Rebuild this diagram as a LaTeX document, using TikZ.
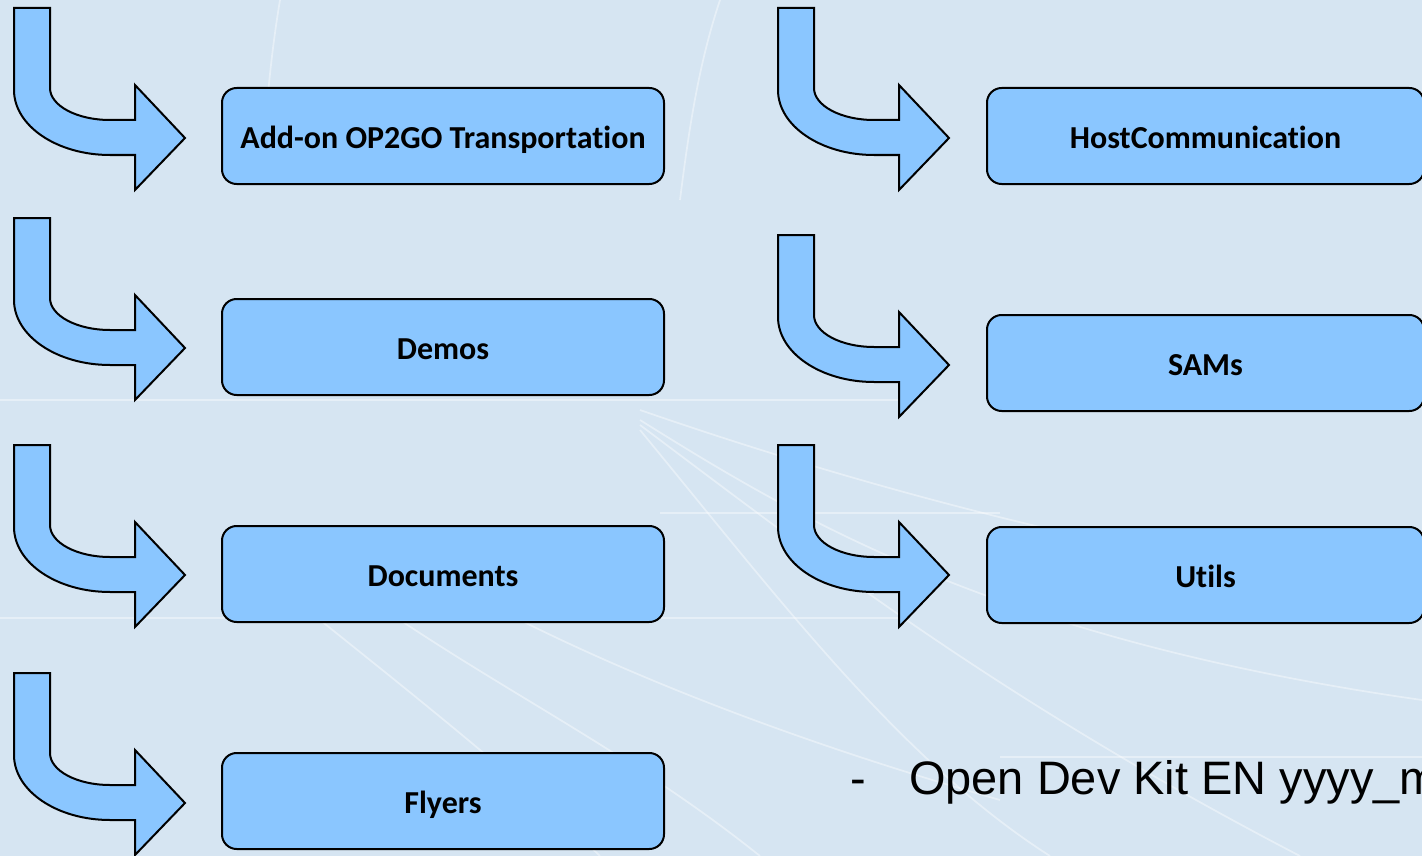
\documentclass[tikz,border=0pt]{standalone}
\usepackage{fontspec}
\setmainfont[Ligatures=NoCommon]{Carlito}
\newfontfamily\arialfont{Liberation Sans}
\definecolor{bgblue}{RGB}{214,229,242}
\definecolor{boxblue}{RGB}{138,198,255}

\tikzset{
  folder/.style={draw, line width=1.5pt, fill=boxblue, rounded corners=11pt,
    minimum height=72pt, inner sep=0pt, text height=18.5pt, text depth=0pt,
    font=\bfseries\fontsize{24}{28}\selectfont},
  kittext/.style={anchor=base west, inner sep=0pt,
    font=\arialfont\fontsize{35.2}{40}\selectfont},
  webline/.style={white, opacity=.4, line width=1.3pt},
  bentarrow/.pic={
    \filldraw[line width=1.5pt, fill=boxblue] (0,0) -- (36,0) -- (36,80)
      .. controls (36,97.7) and (62.9,112) .. (96,112) -- (121,112) -- (121,77)
      -- (171,130) -- (121,182) -- (121,147) -- (96,147)
      .. controls (43,147) and (0,117.9) .. (0,82) -- cycle;
  }
}

\begin{document}
\begin{tikzpicture}[x=0.75pt, y=-0.75pt]
    \useasboundingbox (0,0) rectangle (1422,856);
    \clip (0,0) rectangle (1422,856);
    \fill[bgblue] (0,0) rectangle (1422,856);

    % faint web in the background
    \draw[webline] (0,400) -- (900,400);
    \draw[webline] (0,618) -- (900,618);
    \draw[webline] (660,513) -- (1000,513);
    \draw[webline] (1000,757) -- (1422,757);
    \draw[webline] (640,420) .. controls (800,520) and (1000,640) .. (1422,700);
    \draw[webline] (640,425) .. controls (820,560) and (1000,700) .. (1300,856);
    \draw[webline] (640,430) .. controls (780,600) and (900,760) .. (1050,856);
    \draw[webline] (640,410) .. controls (900,500) and (1150,560) .. (1422,600);
    \draw[webline] (320,620) .. controls (420,700) and (520,780) .. (600,856);
    \draw[webline] (400,620) .. controls (520,700) and (640,760) .. (760,856);
    \draw[webline] (520,620) .. controls (680,700) and (860,760) .. (1000,800);
    \draw[webline] (280,0) .. controls (270,60) and (265,120) .. (262,180);
    \draw[webline] (720,0) .. controls (700,60) and (690,120) .. (680,200);

    % bent arrows
    \pic at (14,8) {bentarrow};
    \pic at (14,218) {bentarrow};
    \pic at (14,445) {bentarrow};
    \pic at (14,673) {bentarrow};
    \pic at (778,8) {bentarrow};
    \pic at (778,235) {bentarrow};
    \pic at (778,445) {bentarrow};

    % folders
    \node[folder, minimum width=331.5pt] (addon) at (443,136) {Add-on OP2GO Transportation};
    \node[folder, minimum width=331.5pt] (demos) at (443,347) {Demos};
    \node[folder, minimum width=331.5pt] (documents) at (443,574) {Documents};
    \node[folder, minimum width=331.5pt] (flyers) at (443,801) {Flyers};
    \node[folder, minimum width=327.75pt] (host) at (1205.5,136) {HostCommunication};
    \node[folder, minimum width=327.75pt] (sams) at (1205.5,363) {SAMs};
    \node[folder, minimum width=327.75pt] (utils) at (1205.5,575) {Utils};

    \node[kittext] (dash) at (850,794) {-};
    \node[kittext] (kitname) at (909,794) {Open Dev Kit EN yyyy\_mm};
\end{tikzpicture}
\end{document}
